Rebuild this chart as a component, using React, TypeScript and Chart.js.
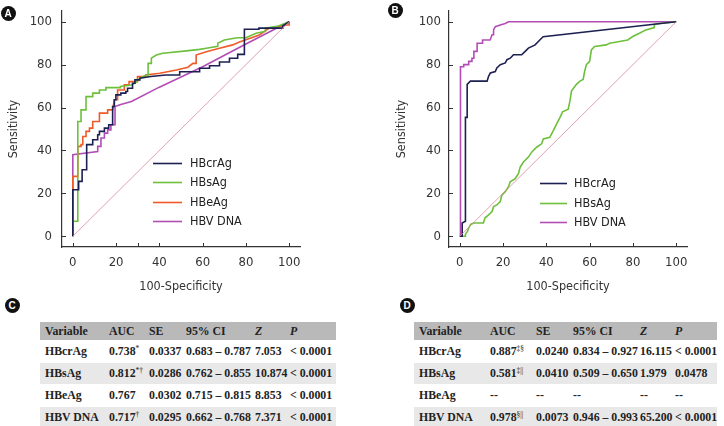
import React, { useEffect, useRef } from "react";
import { Chart, registerables } from "chart.js";

Chart.register(...registerables);

const SANS = "'Liberation Sans Narrow', 'DejaVu Sans Condensed', 'Liberation Sans', sans-serif";
const SERIF = "'Liberation Serif', 'DejaVu Serif', serif";

// ---------- tick values ----------
const tickLabels = [0, 20, 40, 60, 80, 100];
const xTickMarksA = [0, 20, 30, 40, 60, 80, 100];
const xTickMarksB = [0, 20, 40, 60, 80, 100];
const yTickMarks = [0, 20, 40, 60, 80, 100];

// ---------- reference diagonal ----------
const diagonal: [number, number][] = [[0, 0], [100, 100]];

// ---------- Panel A (100-Specificity, Sensitivity) ----------
const aHBcrAg: [number, number][] = [
  [0, 0], [0, 21.7], [2.7, 21.7], [2.7, 25.6], [4.3, 25.6], [4.3, 31], [6.4, 31], [6.4, 42.7],
  [9.2, 42.7], [9.2, 45], [11.5, 45], [11.5, 47.3], [12.3, 47.3], [12.3, 48.9], [14.6, 48.9],
  [14.6, 50.4], [16.6, 50.4], [16.6, 52], [18.4, 52], [18.4, 60.5], [19.2, 60.5], [19.2, 63.6],
  [19.9, 63.6], [19.9, 65.9], [22.2, 65.9], [22.2, 66.7], [24.5, 66.7], [24.5, 67.5], [25.3, 67.5],
  [25.3, 69], [27.6, 69], [27.6, 71.3], [28.7, 71.3], [28.7, 72.9], [31, 72.9], [31, 73.7],
  [36, 74.5], [43, 75.2], [49.4, 75.2], [49.4, 76.7], [58.6, 76.7], [58.6, 78.3], [63.2, 78.3],
  [63.2, 79.5], [67.8, 79.5], [67.8, 81.2], [72.4, 81.2], [72.4, 83], [76.2, 83], [76.2, 84.8],
  [79.3, 84.8], [79.3, 96.5], [86, 96.5], [86, 97], [97, 97], [97, 98], [100, 100],
];
const aHBsAg: [number, number][] = [
  [0, 0], [0, 7], [2.3, 7], [2.3, 53.5], [3.8, 53.5], [3.8, 58.9], [6.1, 58.9], [6.1, 65.1],
  [9.2, 65.1], [9.2, 66.7], [12.3, 66.7], [12.3, 68.2], [15.3, 68.2], [15.3, 69.3], [22, 69.3],
  [22, 69.8], [27, 70.5], [29, 71.5], [31, 73.7], [34, 75.2], [34.8, 75.2], [34.8, 80.6],
  [36.3, 80.6], [36.3, 83], [38.6, 84.5], [41.6, 85.3], [52.5, 86.4], [58.6, 87.1], [61.7, 87.6],
  [67, 88.5], [67, 90], [70, 91.5], [76, 92.5], [80, 92.5], [84.7, 94.6], [89, 95.5], [89, 97],
  [95, 98], [100, 100],
];
const aHBeAg: [number, number][] = [
  [0, 0], [0, 27.9], [2.3, 27.9], [2.3, 41.9], [3.8, 41.9], [3.8, 42.7], [4.6, 42.7], [4.6, 46.5],
  [6.1, 46.5], [6.1, 48.9], [7.7, 48.9], [7.7, 50.4], [9.2, 50.4], [9.2, 53.5], [12.3, 53.5],
  [12.3, 57.4], [16.1, 57.4], [16.1, 58.9], [18.4, 58.9], [19.2, 63.6], [20.7, 63.6], [20.7, 68.2],
  [23.8, 68.2], [23.8, 70.6], [26, 70.6], [26, 72.1], [29.9, 72.1], [29.9, 74.4], [33.7, 74.4],
  [33.7, 75.2], [40.2, 76], [47.9, 77.5], [53.2, 78.8], [55.5, 80.6], [57, 80.6], [57, 84.5],
  [61.7, 86], [67.8, 87.6], [73.9, 89.2], [77, 90.5], [86.2, 93.8], [90.8, 97], [98.5, 98.5],
  [100, 98.5], [100, 100],
];
const aHBVDNA: [number, number][] = [
  [0, 0], [0, 38], [11.5, 39.5], [11.5, 41.9], [13, 41.9], [13, 45.8], [14.6, 45.8], [14.6, 48.1],
  [16.1, 48.1], [16.1, 49.6], [17.6, 49.6], [17.6, 52], [19.5, 52], [19.5, 60.5], [21.8, 61.3],
  [27.1, 62.8], [40, 69.5], [60, 79], [80, 89.6], [100, 100],
];

// ---------- Panel B ----------
const bHBcrAg: [number, number][] = [
  [0, 0], [1.1, 0], [1.1, 6.2], [2.6, 7], [2.6, 55.4], [3.4, 55.4], [3.4, 70.8], [4.9, 72.3],
  [12.6, 72.3], [13.3, 74.6], [14.1, 76.1], [16.4, 76.8], [17.1, 78.5], [18.7, 80], [21, 80.8],
  [21.8, 82.3], [23.3, 83], [24.8, 84.6], [28.6, 84.6], [30.2, 86.2], [31.7, 87.7], [34.8, 89.2],
  [36.3, 90.8], [38.5, 93], [100, 100],
];
const bHBsAg: [number, number][] = [
  [0, 0], [2.6, 0], [2.6, 1], [3.5, 2.3], [4.1, 3.8], [5, 5.5], [6.4, 6.2], [10.9, 6.2],
  [11.6, 8.5], [13.3, 10], [14.9, 11.5], [15.6, 13.8], [17.1, 14.6], [18.7, 16.2], [19.4, 19.2],
  [21, 20.8], [22.5, 23.1], [23.3, 25.4], [25.6, 26.9], [27.1, 29.2], [27.9, 32.3], [29.4, 34.6],
  [31.7, 36.9], [33.2, 39.2], [35.5, 41.5], [37.8, 43.1], [38.6, 45.4], [41.6, 46.1], [43.2, 49.2],
  [44.7, 52.3], [46.3, 55.4], [47.5, 58], [50.1, 59.2], [50.9, 63.1], [51.6, 67.7], [53.9, 70.8],
  [55.5, 72.3], [57, 73.1], [57.7, 76.9], [58.5, 80], [60, 81.5], [60.8, 86.9], [62.3, 88.5],
  [67.7, 89.2], [69.2, 90], [73.8, 90.8], [77.6, 91.5], [79.9, 93.1], [83, 94.6], [86, 96.2],
  [89.9, 97.3], [89.9, 98.8], [92.2, 99.2], [100, 100],
];
const bHBVDNA: [number, number][] = [
  [0, 0], [0.3, 0], [0.3, 79], [1.8, 79], [1.8, 80], [4.1, 80], [4.1, 81.5], [5.6, 81.5],
  [5.6, 83], [6.5, 83], [6.5, 86.2], [8, 86.2], [8, 90], [10.5, 90], [10.5, 91.5], [14, 91.5],
  [14.9, 93.9], [15.6, 93.9], [15.6, 96.2], [16.4, 97.7], [18.7, 98.5], [21, 99.2], [22.5, 100],
  [100, 100],
];

// ---------- colours ----------
const C_HBCRAG = "#1d2152";
const C_HBSAG = "#6dbf3c";
const C_HBEAG = "#ee5a28";
const C_HBVDNA = "#b24db5";
const C_DIAG = "#d98a98";

// ---------- tables ----------
const tableHeader = ["Variable", "AUC", "SE", "95% CI", "Z", "P"];
const tableC: string[][] = [
  ["HBcrAg", "0.738", "*", "0.0337", "0.683 – 0.787", "7.053", "< 0.0001"],
  ["HBsAg", "0.812", "*†", "0.0286", "0.762 – 0.855", "10.874", "< 0.0001"],
  ["HBeAg", "0.767", "", "0.0302", "0.715 – 0.815", "8.853", "< 0.0001"],
  ["HBV DNA", "0.717", "†", "0.0295", "0.662 – 0.768", "7.371", "< 0.0001"],
];
const tableD: string[][] = [
  ["HBcrAg", "0.887", "‡§", "0.0240", "0.834 – 0.927", "16.115", "< 0.0001"],
  ["HBsAg", "0.581", "‡||", "0.0410", "0.509 – 0.650", "1.979", "0.0478"],
  ["HBeAg", "--", "", "--", "--", "--", "--"],
  ["HBV DNA", "0.978", "§||", "0.0073", "0.946 – 0.993", "65.200", "< 0.0001"],
];
const colWidthsC = [69, 40, 37, 69, 35, 46];
const colWidthsD = [76, 46, 37, 67, 35, 42];

type Series = { label: string; color: string; pts: [number, number][] };

const seriesA: Series[] = [
  { label: "HBcrAg", color: C_HBCRAG, pts: aHBcrAg },
  { label: "HBsAg", color: C_HBSAG, pts: aHBsAg },
  { label: "HBeAg", color: C_HBEAG, pts: aHBeAg },
  { label: "HBV DNA", color: C_HBVDNA, pts: aHBVDNA },
];
const seriesB: Series[] = [
  { label: "HBcrAg", color: C_HBCRAG, pts: bHBcrAg },
  { label: "HBsAg", color: C_HBSAG, pts: bHBsAg },
  { label: "HBV DNA", color: C_HBVDNA, pts: bHBVDNA },
];

function inwardTicks(xMarks: number[], yMarks: number[]) {
  return {
    id: "inwardTicks",
    afterDatasetsDraw(chart: any) {
      const { ctx, chartArea, scales } = chart;
      ctx.save();
      ctx.strokeStyle = "#333";
      ctx.lineWidth = 1;
      ctx.beginPath();
      xMarks.forEach((v) => {
        const p = Math.round(scales.x.getPixelForValue(v)) + 0.5;
        ctx.moveTo(p, chartArea.bottom);
        ctx.lineTo(p, chartArea.bottom - 4);
      });
      yMarks.forEach((v) => {
        const p = Math.round(scales.y.getPixelForValue(v)) + 0.5;
        ctx.moveTo(chartArea.left, p);
        ctx.lineTo(chartArea.left + 4, p);
      });
      ctx.stroke();
      ctx.restore();
    },
  };
}

function lineLegend(dx: number, dy: number, gap: number, lineLen: number, textGap: number) {
  return {
    id: "lineLegend",
    afterDatasetsDraw(chart: any) {
      const { ctx, chartArea } = chart;
      const items = chart.data.datasets.filter((d: any) => d.label);
      ctx.save();
      ctx.font = `12.5px ${SANS}`;
      ctx.textBaseline = "middle";
      ctx.textAlign = "left";
      items.forEach((d: any, i: number) => {
        const y = Math.round(chartArea.top + dy + i * gap) + 0.5;
        const x0 = chartArea.left + dx;
        ctx.strokeStyle = d.borderColor;
        ctx.lineWidth = 1.6;
        ctx.beginPath();
        ctx.moveTo(x0, y);
        ctx.lineTo(x0 + lineLen, y);
        ctx.stroke();
        ctx.fillStyle = "#222";
        ctx.fillText(d.label, x0 + lineLen + textGap, y);
      });
      ctx.restore();
    },
  };
}

type RocProps = {
  series: Series[];
  xMarks: number[];
  yAxisWidth: number;
  rightPad: number;
  yTitlePad: number;
  yTickPad: number;
  legend: { dx: number; dy: number; gap: number; lineLen: number; textGap: number };
};

function RocChart(props: RocProps) {
  const ref = useRef<HTMLCanvasElement | null>(null);
  useEffect(() => {
    if (!ref.current) return;
    const { series, xMarks, yAxisWidth, rightPad, yTitlePad, yTickPad, legend } = props;
    const datasets: any[] = series.map((s) => ({
      label: s.label,
      data: s.pts.map(([x, y]) => ({ x, y })),
      borderColor: s.color,
      backgroundColor: s.color,
      borderWidth: 1.6,
      pointRadius: 0,
      tension: 0,
      fill: false,
    }));
    datasets.unshift({
      label: "",
      data: diagonal.map(([x, y]) => ({ x, y })),
      borderColor: C_DIAG,
      borderWidth: 0.8,
      pointRadius: 0,
      fill: false,
    });
    const chart = new Chart(ref.current, {
      type: "line",
      data: { datasets },
      options: {
        animation: false,
        responsive: false,
        maintainAspectRatio: false,
        layout: { padding: { left: 0, top: 11, right: rightPad, bottom: 0 } },
        plugins: { legend: { display: false }, tooltip: { enabled: false } },
        scales: {
          x: {
            type: "linear",
            min: -5,
            max: 105,
            afterBuildTicks: (scale: any) => {
              scale.ticks = tickLabels.map((v) => ({ value: v }));
            },
            afterFit: (scale: any) => {
              scale.height = 49;
              scale.paddingLeft = 0;
              scale.paddingRight = 0;
            },
            grid: { display: false, drawTicks: false },
            border: { display: true, color: "#333", width: 1.2 },
            ticks: { padding: 8, color: "#333", font: { family: SANS, size: 13 }, maxRotation: 0, autoSkip: false },
            title: {
              display: true,
              text: "100-Specificity",
              color: "#333",
              font: { family: SANS, size: 12.5 },
              padding: { top: 0, bottom: 2 },
            },
          },
          y: {
            type: "linear",
            min: -5,
            max: 105,
            afterBuildTicks: (scale: any) => {
              scale.ticks = tickLabels.map((v) => ({ value: v }));
            },
            afterFit: (scale: any) => {
              scale.width = yAxisWidth;
              scale.paddingTop = 0;
              scale.paddingBottom = 0;
            },
            grid: { display: false, drawTicks: false },
            border: { display: true, color: "#333", width: 1.2 },
            ticks: { padding: yTickPad, color: "#333", font: { family: SANS, size: 13 }, autoSkip: false },
            title: {
              display: true,
              text: "Sensitivity",
              color: "#333",
              font: { family: SANS, size: 12.5 },
              padding: { top: yTitlePad, bottom: 0 },
            },
          },
        },
      },
      plugins: [
        inwardTicks(xMarks, yTickMarks),
        lineLegend(legend.dx, legend.dy, legend.gap, legend.lineLen, legend.textGap),
      ],
    } as any);
    return () => chart.destroy();
  }, []);
  return <canvas ref={ref} width={362} height={296} style={{ width: 362, height: 296, display: "block" }} />;
}

function Badge({ letter, x, y }: { letter: string; x: number; y: number }) {
  return (
    <div
      style={{
        position: "absolute",
        left: x - 7.5,
        top: y - 7.5,
        width: 15,
        height: 15,
        borderRadius: "50%",
        background: "#111",
        color: "#fff",
        fontFamily: "'Liberation Sans', Arial, sans-serif",
        fontWeight: 700,
        fontSize: 10,
        lineHeight: "15px",
        textAlign: "center",
      }}
    >
      {letter}
    </div>
  );
}

function StatTable({ rows, widths, left }: { rows: string[][]; widths: number[]; left: number }) {
  const total = widths.reduce((a, b) => a + b, 0);
  const cell = (i: number): React.CSSProperties => ({
    padding: i === 0 ? "0 0 0 5px" : "0",
    whiteSpace: "nowrap",
    overflow: "visible",
    fontFamily: SERIF,
    fontWeight: 700,
    fontSize: 11.8,
    color: "#222",
    textAlign: "left",
  });
  return (
    <table
      style={{
        position: "absolute",
        left,
        top: 322,
        width: total,
        borderCollapse: "collapse",
        tableLayout: "fixed",
        borderBottom: "1.5px solid #444",
      }}
    >
      <colgroup>
        {widths.map((w, i) => (
          <col key={i} style={{ width: w }} />
        ))}
      </colgroup>
      <thead>
        <tr style={{ background: "#b9b9b9", height: 18 }}>
          {tableHeader.map((h, i) => (
            <th key={i} style={{ ...cell(i), fontStyle: h === "Z" || h === "P" ? "italic" : "normal", height: 18 }}>
              {h}
            </th>
          ))}
        </tr>
      </thead>
      <tbody>
        {rows.map((r, ri) => (
          <tr key={ri} style={{ background: ri % 2 === 1 ? "#e8e8e8" : "#fff", height: 21, borderTop: "1px solid #fff" }}>
            <td style={{ ...cell(0), height: 21 }}>{r[0]}</td>
            <td style={{ ...cell(1), height: 21 }}>
              {r[1]}
              {r[2] ? (
                <span style={{ fontSize: 7.5, position: "relative", top: -4, fontWeight: 400 }}>{r[2]}</span>
              ) : null}
            </td>
            <td style={{ ...cell(2), height: 21 }}>{r[3]}</td>
            <td style={{ ...cell(3), height: 21 }}>{r[4]}</td>
            <td style={{ ...cell(4), height: 21 }}>{r[5]}</td>
            <td style={{ ...cell(5), height: 21 }}>{r[6]}</td>
          </tr>
        ))}
      </tbody>
    </table>
  );
}

export default function App() {
  return (
    <div
      style={{
        position: "fixed",
        left: 0,
        top: 0,
        width: 724,
        height: 426,
        background: "#fff",
        overflow: "hidden",
      }}
    >
      <div style={{ position: "absolute", left: 0, top: 0 }}>
        <RocChart
          series={seriesA}
          xMarks={xTickMarksA}
          yAxisWidth={62}
          rightPad={62}
          yTitlePad={6}
          yTickPad={10}
          legend={{ dx: 91, dy: 152, gap: 19.4, lineLen: 29, textGap: 8 }}
        />
      </div>
      <div style={{ position: "absolute", left: 362, top: 0 }}>
        <RocChart
          series={seriesB}
          xMarks={xTickMarksB}
          yAxisWidth={87}
          rightPad={37}
          yTitlePad={32}
          yTickPad={8}
          legend={{ dx: 91, dy: 172, gap: 19.5, lineLen: 27, textGap: 7 }}
        />
      </div>
      <Badge letter="A" x={8} y={13} />
      <Badge letter="B" x={395} y={10} />
      <Badge letter="C" x={12} y={305} />
      <Badge letter="D" x={407} y={305} />
      <StatTable rows={tableC} widths={colWidthsC} left={40} />
      <StatTable rows={tableD} widths={colWidthsD} left={414} />
    </div>
  );
}
